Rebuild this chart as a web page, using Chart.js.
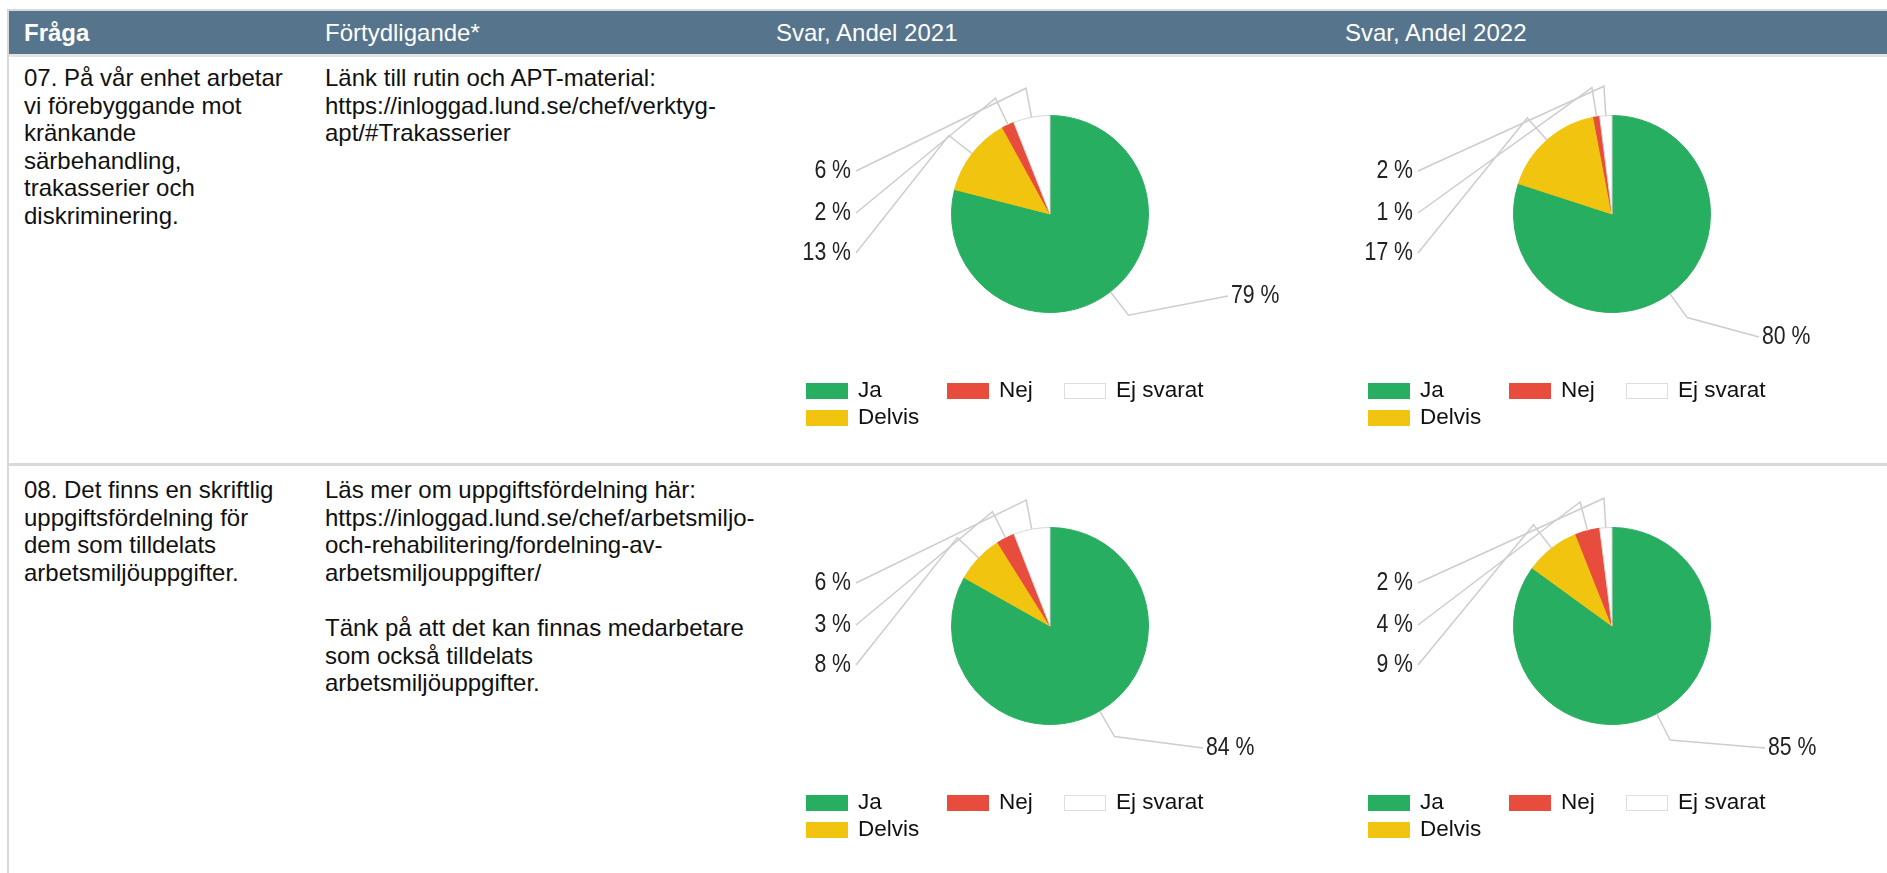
<!DOCTYPE html>
<html lang="sv">
<head>
<meta charset="utf-8">
<script src="https://cdn.jsdelivr.net/npm/chart.js@4/dist/chart.umd.min.js"></script>
<style>
  html, body { margin: 0; padding: 0; background: #fff; }
  body { width: 1887px; height: 873px; position: relative; overflow: hidden;
         font-family: "Liberation Sans", Arial, sans-serif; color: #111; }
  .line { position: absolute; background: #d9d9d9; }
  .head { position: absolute; left: 9px; top: 11px; width: 1878px; height: 43px; background: #57748d; }
  .htxt { position: absolute; top: 11px; line-height: 43px; font-size: 24px; color: #fff; white-space: nowrap; }
  .txt { position: absolute; font-size: 24px; line-height: 27.6px; white-space: nowrap; }
  .cell { position: absolute; }
</style>
</head>
<body>
<div class="line" style="left:7px;top:9px;width:1880px;height:2px"></div>
<div class="line" style="left:7px;top:9px;width:2px;height:864px"></div>
<div class="head"></div>
<div class="line" style="left:9px;top:54px;width:1878px;height:3px;background:#e4e4e4"></div>
<div class="line" style="left:9px;top:463px;width:1878px;height:3px"></div>

<div class="htxt" style="left:24px;font-weight:bold">Fråga</div>
<div class="htxt" style="left:325px">Förtydligande*</div>
<div class="htxt" style="left:776px">Svar, Andel 2021</div>
<div class="htxt" style="left:1345px">Svar, Andel 2022</div>

<div class="txt" style="left:24px;top:64px">07. På vår enhet arbetar<br>vi förebyggande mot<br>kränkande<br>särbehandling,<br>trakasserier och<br>diskriminering.</div>
<div class="txt" style="left:325px;top:64px">Länk till rutin och APT-material:<br>https://inloggad.lund.se/chef/verktyg-<br>apt/#Trakasserier</div>

<div class="txt" style="left:24px;top:476px">08. Det finns en skriftlig<br>uppgiftsfördelning för<br>dem som tilldelats<br>arbetsmiljöuppgifter.</div>
<div class="txt" style="left:325px;top:476px">Läs mer om uppgiftsfördelning här:<br>https://inloggad.lund.se/chef/arbetsmiljo-<br>och-rehabilitering/fordelning-av-<br>arbetsmiljouppgifter/<br><br>Tänk på att det kan finnas medarbetare<br>som också tilldelats<br>arbetsmiljöuppgifter.</div>

<div class="cell" id="c1"><canvas id="pie1"></canvas></div>
<div class="cell" id="c2"><canvas id="pie2"></canvas></div>
<div class="cell" id="c3"><canvas id="pie3"></canvas></div>
<div class="cell" id="c4"><canvas id="pie4"></canvas></div>

<script>
// svarsalternativ (samma ordning som tårtbitarna, medurs från kl 12)
const categories = ['Ja', 'Delvis', 'Nej', 'Ej svarat'];
// ordning i förklaringen (radvis, tre per rad)
const legendOrder = ['Ja', 'Nej', 'Ej svarat', 'Delvis'];

// andelar i procent
const q07_2021 = [79, 13, 2, 6];
const q07_2022 = [80, 17, 1, 2];
const q08_2021 = [84, 8, 3, 6];
const q08_2022 = [85, 9, 4, 2];

const sliceColors = ['#27ae60', '#f1c40f', '#e74c3c', '#ffffff'];
const sliceBorders = ['#27ae60', '#f1c40f', '#e74c3c', '#d6d6d6'];

// placering: pie-centrum (sidkoordinater) och läge för högeretiketten
const charts = [
  { id: 'pie1', cell: 'c1', data: q07_2021, cx: 1050, cy: 214, right: [181, 82] },
  { id: 'pie2', cell: 'c2', data: q07_2022, cx: 1612, cy: 214, right: [150, 123] },
  { id: 'pie3', cell: 'c3', data: q08_2021, cx: 1050, cy: 626, right: [156, 122] },
  { id: 'pie4', cell: 'c4', data: q08_2022, cx: 1612, cy: 626, right: [156, 122] }
];

const R = 99;          // radie
const W = 540, H = 380, OX = 270, OY = 150; // canvasstorlek och centrum i canvas

function condensedText(ctx, text, x, y, align, size, sx) {
  ctx.save();
  ctx.translate(x, y);
  ctx.scale(sx, 1);
  ctx.font = size + 'px "Liberation Sans", Arial, sans-serif';
  ctx.textAlign = align;
  ctx.textBaseline = 'middle';
  ctx.fillText(text, 0, 0);
  ctx.restore();
}

const pieLabels = {
  id: 'pieLabels',
  afterDatasetsDraw(chart, args, opts) {
    const ctx = chart.ctx;
    const meta = chart.getDatasetMeta(0);
    const values = chart.data.datasets[0].data;
    const left = [], right = [];
    let cx = 0, cy = 0;
    meta.data.forEach((arc, i) => {
      const p = arc.getProps(['x', 'y', 'startAngle', 'endAngle', 'outerRadius'], true);
      cx = p.x; cy = p.y;
      const mid = (p.startAngle + p.endAngle) / 2;
      const c = Math.cos(mid), s = Math.sin(mid);
      const item = {
        text: values[i] + ' %',
        edge: { x: p.x + c * p.outerRadius, y: p.y + s * p.outerRadius },
        elbow: { x: p.x + c * p.outerRadius * 1.3, y: p.y + s * p.outerRadius * 1.3 }
      };
      (c < 0 ? left : right).push(item);
    });
    left.sort((a, b) => a.elbow.y - b.elbow.y);
    const slots = [-43, -1, 39];
    ctx.save();
    ctx.strokeStyle = '#cdcdcd';
    ctx.lineWidth = 1.5;
    ctx.fillStyle = '#222';
    left.forEach((it, k) => {
      const ly = cy + slots[k];
      const lx = cx - 199;
      ctx.beginPath();
      ctx.moveTo(it.edge.x, it.edge.y);
      ctx.lineTo(it.elbow.x, it.elbow.y);
      ctx.lineTo(lx + 5, ly);
      ctx.stroke();
      condensedText(ctx, it.text, lx, ly, 'right', 25, 0.85);
    });
    right.forEach((it) => {
      const lx = cx + opts.right[0];
      const ly = cy + opts.right[1];
      ctx.beginPath();
      ctx.moveTo(it.edge.x, it.edge.y);
      ctx.lineTo(it.elbow.x, it.elbow.y);
      ctx.lineTo(lx - 3, ly);
      ctx.stroke();
      condensedText(ctx, it.text, lx, ly, 'left', 25, 0.85);
    });
    ctx.restore();

    // förklaring: radvis, tre per rad
    const colX = [-244, -103, 14];
    const rowY = [177, 204];
    ctx.save();
    legendOrder.forEach((name, k) => {
      const i = categories.indexOf(name);
      const col = k % 3, row = Math.floor(k / 3);
      const bx = cx + colX[col], by = cy + rowY[row];
      ctx.fillStyle = sliceColors[i];
      ctx.fillRect(bx, by - 8, 42, 16);
      ctx.strokeStyle = i === 3 ? '#dedede' : sliceColors[i];
      ctx.lineWidth = 1;
      ctx.strokeRect(bx + 0.5, by - 7.5, 41, 15);
      ctx.fillStyle = '#111';
      condensedText(ctx, name, bx + 52, by, 'left', 22.5, 1);
    });
    ctx.restore();
  }
};

charts.forEach((c) => {
  const cell = document.getElementById(c.cell);
  cell.style.left = (c.cx - OX) + 'px';
  cell.style.top = (c.cy - OY) + 'px';
  cell.style.width = W + 'px';
  cell.style.height = H + 'px';
  new Chart(document.getElementById(c.id), {
    type: 'pie',
    data: {
      labels: categories,
      datasets: [{
        data: c.data,
        backgroundColor: sliceColors,
        borderColor: sliceBorders,
        borderWidth: 1
      }]
    },
    options: {
      responsive: true,
      maintainAspectRatio: false,
      animation: false,
      events: [],
      layout: { padding: { left: OX - R, right: W - OX - R, top: OY - R, bottom: H - OY - R } },
      plugins: {
        legend: { display: false },
        tooltip: { enabled: false },
        pieLabels: { right: c.right }
      }
    },
    plugins: [pieLabels]
  });
});
</script>
</body>
</html>
